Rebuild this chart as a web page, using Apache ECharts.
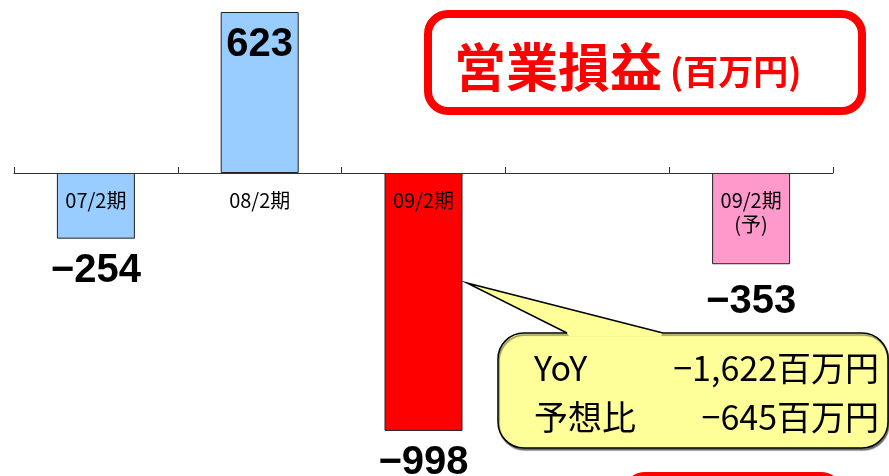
<!DOCTYPE html>
<html>
<head>
<meta charset="utf-8">
<script src="https://cdn.jsdelivr.net/npm/echarts@6/dist/echarts.min.js"></script>
<style>
  html, body { margin: 0; padding: 0; background: #ffffff; }
  #chart { width: 889px; height: 476px; }
</style>
</head>
<body>
<div id="chart"></div>
<script>
// Operating profit/loss by fiscal period (million yen)
const categories = ['07/2期', '08/2期', '09/2期', '', '09/2期\n(予)'];
const values = [-254, 623, -998, null, -353];
const barColors = ['#99CCFF', '#99CCFF', '#FF0000', null, '#FF99CC'];
const labelGaps = [12, 13, 12, null, 18];

const yMin = -1150;
const yMax = 623;

const titleMain = '営業損益';
const titleUnit = '(百万円)';
const noteLabels = ['YoY', '予想比'];
const noteValues = ['−1,622百万円', '−645百万円'];

const JP = '"Noto Sans CJK JP", "Noto Sans", sans-serif';
const NUM = '"Liberation Sans", Arial, sans-serif';

const W = 889, H = 476;
const gridTop = 12, gridBottom = 5.8;

const fmt = v => String(v).replace('-', '−');

const barData = values.map((v, i) => {
  if (v === null) return '-';
  return {
    value: v,
    itemStyle: { color: barColors[i] },
    label: { position: v >= 0 ? 'insideTop' : 'bottom', distance: labelGaps[i] }
  };
});

// shift the category axis from the grid's bottom edge up to the zero line
const gridH = H - gridTop - gridBottom;
const zeroY = gridTop + gridH * yMax / (yMax - yMin);
const axisShift = -((H - gridBottom) - zeroY);

// callout bubble geometry
const tip = [467, 283];
const baseL = 567, baseR = 663, bubTop = 333;

const chart = echarts.init(document.getElementById('chart'), null, { renderer: 'canvas' });

chart.setOption({
  backgroundColor: '#ffffff',
  animation: false,
  grid: { left: 14, right: 56, top: gridTop, bottom: gridBottom, outerBoundsMode: 'none', containLabel: false },
  xAxis: {
    type: 'category',
    data: categories,
    z: 10,
    offset: axisShift,
    boundaryGap: true,
    axisLine: { show: true, onZero: false, lineStyle: { color: '#333333', width: 1 } },
    axisTick: { show: true, inside: true, alignWithLabel: false, interval: 0, length: 6, lineStyle: { color: '#333333', width: 1 } },
    axisLabel: {
      interval: 0,
      color: '#000000',
      fontFamily: JP,
      fontSize: 20,
      lineHeight: 24,
      margin: 15
    }
  },
  yAxis: {
    type: 'value',
    min: yMin,
    max: yMax,
    show: false,
    splitLine: { show: false }
  },
  series: [{
    type: 'bar',
    data: barData,
    barWidth: 78,
    itemStyle: { borderColor: '#222222', borderWidth: 1 },
    label: {
      show: true,
      color: '#000000',
      fontFamily: NUM,
      fontWeight: 'bold',
      fontSize: 40,
      formatter: p => fmt(p.value)
    }
  }],
  graphic: [
    {
      type: 'rect',
      shape: { x: 428, y: 14, width: 434, height: 97, r: 20 },
      style: { fill: '#ffffff', stroke: '#FF0000', lineWidth: 8 }
    },
    {
      type: 'text', x: 454, y: 67,
      style: {
        text: titleMain, fill: '#FF0000',
        font: 'bold 52px ' + JP,
        align: 'left', verticalAlign: 'middle'
      }
    },
    {
      type: 'text', x: 670, y: 72,
      style: {
        text: titleUnit, fill: '#FF0000',
        font: 'bold 35px ' + JP,
        align: 'left', verticalAlign: 'middle'
      }
    },
    {
      type: 'rect', z: 20,
      shape: { x: 498, y: bubTop, width: 390, height: 115, r: 26 },
      style: {
        fill: '#FFFF99', stroke: '#000000', lineWidth: 1.5,
        shadowColor: 'rgba(0,0,0,0.45)', shadowOffsetX: 1, shadowOffsetY: 2, shadowBlur: 1
      }
    },
    {
      type: 'polygon', z: 21,
      shape: { points: [tip, [baseL, bubTop], [baseL + 2, bubTop + 3], [baseR - 2, bubTop + 3], [baseR, bubTop]] },
      style: { fill: '#FFFF99', stroke: null }
    },
    {
      type: 'polyline', z: 22,
      shape: { points: [[baseL, bubTop], tip, [baseR, bubTop]] },
      style: { stroke: '#000000', lineWidth: 1.5, fill: null }
    },
    {
      type: 'text', x: 534, y: 368, z: 23,
      style: { text: noteLabels[0], fill: '#000000', font: '34px ' + JP, align: 'left', verticalAlign: 'middle' }
    },
    {
      type: 'text', x: 879, y: 368, z: 23,
      style: { text: noteValues[0], fill: '#000000', font: '34px ' + JP, align: 'right', verticalAlign: 'middle' }
    },
    {
      type: 'text', x: 534, y: 417, z: 23,
      style: { text: noteLabels[1], fill: '#000000', font: '34px ' + JP, align: 'left', verticalAlign: 'middle' }
    },
    {
      type: 'text', x: 879, y: 417, z: 23,
      style: { text: noteValues[1], fill: '#000000', font: '34px ' + JP, align: 'right', verticalAlign: 'middle' }
    },
    {
      type: 'rect',
      shape: { x: 627, y: 476, width: 212, height: 50, r: 18 },
      style: { fill: '#ffffff', stroke: '#FF0000', lineWidth: 8 }
    }
  ]
});
</script>
</body>
</html>
